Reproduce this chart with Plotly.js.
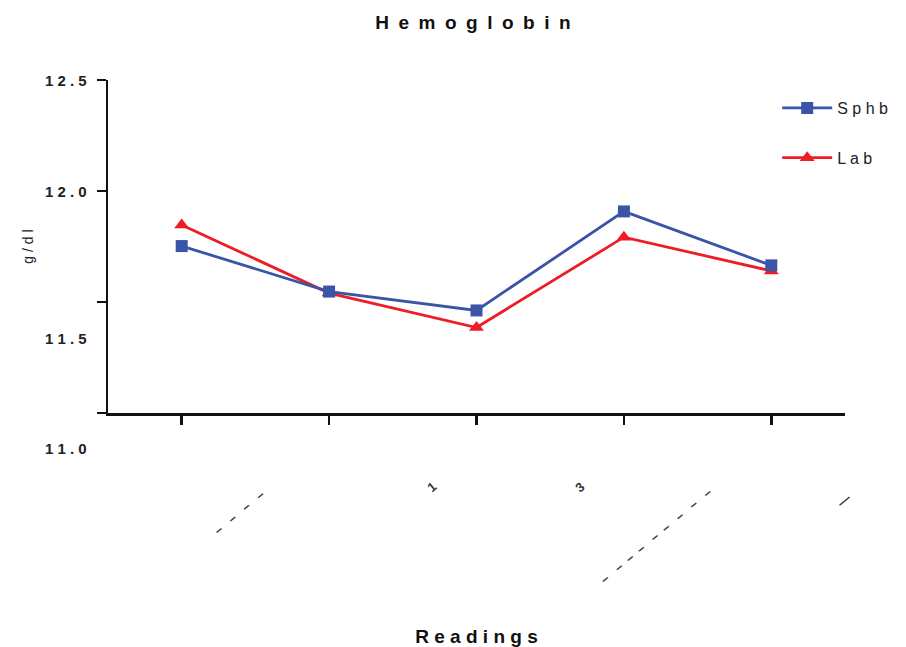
<!DOCTYPE html>
<html>
<head>
<meta charset="utf-8">
<script src="https://cdn.plot.ly/plotly-3.0.1.min.js"></script>
<style>html,body{margin:0;padding:0;background:#fff;}#chart{width:906px;height:647px;}</style>
</head>
<body>
<div id="chart"></div>
<script>
// ---- data ----
const categories = [0, 1, 2, 3, 4];
const sphbValues = [11.752, 11.547, 11.462, 11.908, 11.665];
const labValues = [11.847, 11.540, 11.385, 11.792, 11.640];
const yTickVals = [12.5, 12.0, 11.5, 11.0];
const yTickLabels = ["1 2 . 5", "1 2 . 0", "1 1 . 5", "1 1 . 0"];
const xTickLabels = ["\u2013   \u2013   \u2013   \u2013", "1", "3", "\u2013   \u2013  \u2013  \u2013   \u2013  \u2013   \u2013   \u2013   \u2013", "\u2014"];

const blue = "#3a54a6";
const red = "#ee1d25";

const traces = [
  {
    x: categories, y: labValues, name: "L a b", type: "scatter", mode: "lines+markers",
    line: {color: red, width: 2.8},
    marker: {symbol: "triangle-up", size: 13, color: red},
    legendgroup: "b", legendrank: 2
  },
  {
    x: categories, y: sphbValues, name: "S p h b", type: "scatter", mode: "lines+markers",
    line: {color: blue, width: 2.8},
    marker: {symbol: "square", size: 12, color: blue},
    legendgroup: "a", legendrank: 1
  }
];

// y tick labels (drawn slightly offset as in the original)
const yShifts = [0, 0, -36, -35];
const annotations = yTickVals.map((v, i) => ({
  x: 0, xref: "paper", xanchor: "right", xshift: -19,
  y: v, yref: "y", yanchor: "middle", yshift: yShifts[i],
  text: yTickLabels[i], showarrow: false,
  font: {family: "Liberation Sans, Arial, sans-serif", size: 15, color: "#222", weight: "bold"}
}));

// x tick labels (garbled, rotated)
const xLabPos = [
  {x: 0, dx: 57, dy: 99},
  {x: 1, dx: 102, dy: 74},
  {x: 2, dx: 103, dy: 74},
  {x: 3, dx: 32, dy: 122},
  {x: 4, dx: 72, dy: 87}
];
xLabPos.forEach((p, i) => {
  annotations.push({
    x: categories[p.x], xref: "x", xshift: p.dx,
    y: 0, yref: "paper", yshift: -p.dy,
    xanchor: "center", yanchor: "middle",
    text: xTickLabels[i], showarrow: false, textangle: -40,
    font: {family: "Liberation Sans, Arial, sans-serif", size: 13, color: "#333", weight: "bold"}
  });
});

const layout = {
  width: 906, height: 647,
  paper_bgcolor: "#fff", plot_bgcolor: "#fff",
  margin: {l: 108, r: 61, t: 80, b: 234},
  showlegend: true,
  title: {
    text: "H\u2002e\u2002m\u2002o\u2002g\u2002l\u2002o\u2002b\u2002i\u2002n",
    x: 0.522, xanchor: "center", y: 0.965, yanchor: "middle", yref: "container",
    font: {family: "Liberation Sans, Arial, sans-serif", size: 19, color: "#111", weight: "bold"}
  },
  xaxis: {
    range: [-0.5, 4.5],
    tickvals: categories, showticklabels: false,
    ticks: "outside", ticklen: 9, tickwidth: 2.5, tickcolor: "#111",
    showline: true, linecolor: "#111", linewidth: 2.5,
    showgrid: false, zeroline: false,
    title: {text: "R e a d i n g s", standoff: 206,
      font: {family: "Liberation Sans, Arial, sans-serif", size: 19, color: "#111", weight: "bold"}},
    automargin: false
  },
  yaxis: {
    range: [11.0, 12.5],
    tickvals: yTickVals, showticklabels: false,
    ticks: "outside", ticklen: 9, tickwidth: 2.5, tickcolor: "#111",
    showline: true, linecolor: "#111", linewidth: 2.5,
    showgrid: false, zeroline: false,
    title: {text: "g / d l", standoff: 60,
      font: {family: "Liberation Sans, Arial, sans-serif", size: 14, color: "#222"}},
    automargin: false
  },
  legend: {
    x: 0.908, xanchor: "left", y: 0.967, yanchor: "top",
    bgcolor: "rgba(0,0,0,0)", tracegroupgap: 26, itemwidth: 50,
    font: {family: "Liberation Sans, Arial, sans-serif", size: 16, color: "#222"}
  },
  annotations: annotations
};

Plotly.newPlot("chart", traces, layout, {displayModeBar: false, staticPlot: true});
</script>
</body>
</html>
